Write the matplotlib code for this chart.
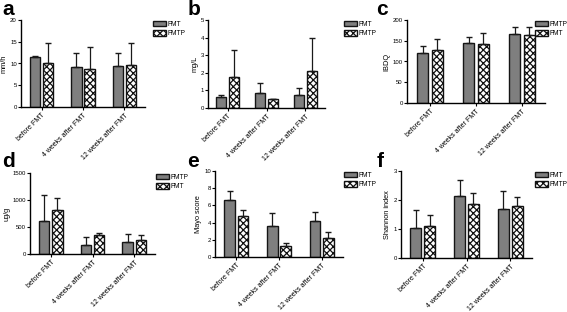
import numpy as np
import matplotlib
matplotlib.use('Agg')
import matplotlib.pyplot as plt

plt.rcParams['font.family'] = ['Liberation Sans', 'DejaVu Sans']
plt.rcParams['hatch.linewidth'] = 0.9

groups = ['before FMT', '4 weeks after FMT', '12 weeks after FMT']

# panel a - ESR
a_fmt = [11.5, 9.3, 9.5]
a_fmt_err = [0.2, 3.1, 3.0]
a_fmtp = [10.0, 8.8, 9.6]
a_fmtp_err = [4.8, 5.0, 5.0]

# panel b - CRP
b_fmt = [0.6, 0.88, 0.75]
b_fmt_err = [0.15, 0.55, 0.38]
b_fmtp = [1.78, 0.5, 2.1]
b_fmtp_err = [1.5, 0.0, 1.9]

# panel c - IBDQ (gray = FMTP here)
c_gray = [120, 145, 166]
c_gray_err = [17, 15, 17]
c_check = [128, 142, 163]
c_check_err = [27, 27, 20]

# panel d - calprotectin (gray = FMTP here)
d_gray = [620, 160, 220]
d_gray_err = [470, 150, 150]
d_check = [810, 350, 255]
d_check_err = [230, 40, 90]

# panel e - Mayo score
e_fmt = [6.6, 3.6, 4.2]
e_fmt_err = [1.1, 1.5, 1.0]
e_fmtp = [4.75, 1.25, 2.25]
e_fmtp_err = [0.7, 0.4, 0.7]

# panel f - Shannon index
f_fmt = [1.05, 2.15, 1.7]
f_fmt_err = [0.6, 0.55, 0.6]
f_fmtp = [1.1, 1.85, 1.8]
f_fmtp_err = [0.4, 0.4, 0.3]

W, H = 567, 312

# letter, axes px (left, top, right, bottom), data, legend px (x, y), letter px
panels = [
    ('a', (21, 20, 145, 107), a_fmt, a_fmt_err, a_fmtp, a_fmtp_err, ('FMT', 'FMTP'), 'mm/h', (0, 20), [0, 5, 10, 15, 20], (153, 21), (2, 0)),
    ('b', (208, 20, 325, 108), b_fmt, b_fmt_err, b_fmtp, b_fmtp_err, ('FMT', 'FMTP'), 'mg/L', (0, 5), [0, 1, 2, 3, 4, 5], (344, 21), (188, 0)),
    ('c', (407, 20, 545, 103), c_gray, c_gray_err, c_check, c_check_err, ('FMTP', 'FMT'), 'IBDQ', (0, 200), [0, 50, 100, 150, 200], (535, 21), (376, 0)),
    ('d', (30, 173, 155, 254), d_gray, d_gray_err, d_check, d_check_err, ('FMTP', 'FMT'), 'ug/g', (0, 1500), [0, 500, 1000, 1500], (156, 174), (2, 152)),
    ('e', (215, 171, 343, 257), e_fmt, e_fmt_err, e_fmtp, e_fmtp_err, ('FMT', 'FMTP'), 'Mayo score', (0, 10), [0, 2, 4, 6, 8, 10], (344, 172), (187, 152)),
    ('f', (401, 171, 532, 258), f_fmt, f_fmt_err, f_fmtp, f_fmtp_err, ('FMT', 'FMTP'), 'Shannon index', (0, 3), [0, 1, 2, 3], (535, 172), (377, 152)),
]

fig = plt.figure(figsize=(W / 100, H / 100), dpi=100)
x = np.arange(len(groups))
w = 0.25
off = 0.16

for letter, box, v1, e1, v2, e2, names, ylabel, ylim, yticks, lpos, tpos in panels:
    l, t, r, b = box
    ax = fig.add_axes([l / W, 1 - b / H, (r - l) / W, (b - t) / H])
    ax.bar(x - off, v1, w, color='#7f7f7f', edgecolor='#151515', linewidth=1.0, label=names[0])
    ax.bar(x + off, v2, w, color='white', edgecolor='#111111', linewidth=1.0,
           hatch='xxxxx', label=names[1])
    ax.errorbar(x - off, v1, yerr=[np.zeros(3), e1], fmt='none', ecolor='#1a1a1a',
                elinewidth=0.9, capsize=2.2, capthick=1.0)
    ax.errorbar(x + off, v2, yerr=[np.zeros(3), e2], fmt='none', ecolor='#1a1a1a',
                elinewidth=0.9, capsize=2.2, capthick=1.0)
    ax.set_xlim(-0.5, 2.5)
    ax.set_ylim(*ylim)
    ax.set_yticks(yticks)
    ax.set_xticks(x)
    ax.set_xticklabels(groups, rotation=45, ha='right', rotation_mode='anchor', fontsize=5.0)
    ax.tick_params(axis='y', labelsize=4.3, length=2, width=0.8, pad=1)
    ax.tick_params(axis='x', length=2, width=0.8, pad=1.5)
    ax.set_ylabel(ylabel, fontsize=5.3, labelpad=1.5)
    for s in ['top', 'right']:
        ax.spines[s].set_visible(False)
    for s in ['left', 'bottom']:
        ax.spines[s].set_linewidth(1.0)
    fig.legend(handles=ax.containers[:2], labels=list(names), loc='upper left',
               bbox_to_anchor=(lpos[0] / W, 1 - lpos[1] / H), fontsize=4.8, frameon=False,
               handlelength=1.9, handleheight=0.85, handletextpad=0.25, labelspacing=0.35,
               borderaxespad=0, borderpad=0)
    fig.text(tpos[0] / W, 1 - tpos[1] / H, letter, fontsize=15, fontweight='bold',
             ha='left', va='top')

fig.savefig('out.png', dpi=100)
